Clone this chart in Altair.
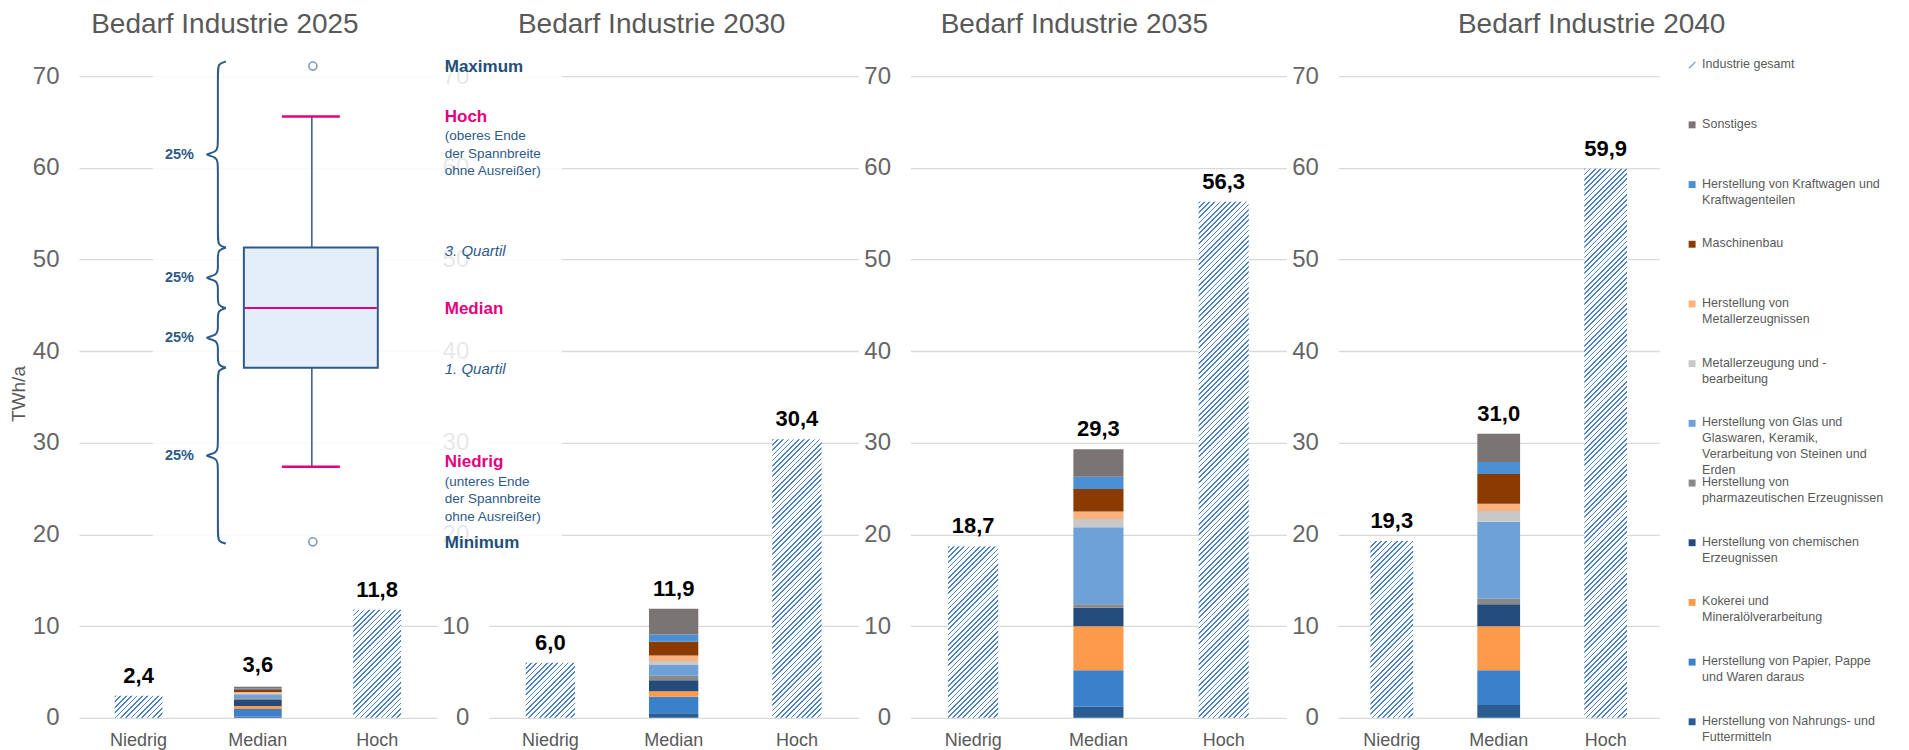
import altair as alt
import pandas as pd

# ---------------- data ----------------
years = ["2025", "2030", "2035", "2040"]
titles = ["Bedarf Industrie 2025", "Bedarf Industrie 2030", "Bedarf Industrie 2035", "Bedarf Industrie 2040"]
categories = ["Niedrig", "Median", "Hoch"]
niedrig = [2.4, 6.0, 18.7, 19.3]
hoch = [11.8, 30.4, 56.3, 59.9]
median_total = [3.6, 11.9, 29.3, 31.0]

# sectors from bottom of the stack to the top
sectors = [
    "Herstellung von Nahrungs- und Futtermitteln",
    "Herstellung von Papier, Pappe und Waren daraus",
    "Kokerei und Mineralölverarbeitung",
    "Herstellung von chemischen Erzeugnissen",
    "Herstellung von pharmazeutischen Erzeugnissen",
    "Herstellung von Glas und Glaswaren, Keramik, Verarbeitung von Steinen und Erden",
    "Metallerzeugung und -bearbeitung",
    "Herstellung von Metallerzeugnissen",
    "Maschinenbau",
    "Herstellung von Kraftwagen und Kraftwagenteilen",
    "Sonstiges",
]
sector_labels = [
    "Herstellung von Nahrungs-  und\nFuttermitteln",
    "Herstellung von Papier, Pappe\nund Waren daraus",
    "Kokerei und\nMineralölverarbeitung",
    "Herstellung von chemischen\nErzeugnissen",
    "Herstellung von\npharmazeutischen Erzeugnissen",
    "Herstellung von Glas und\nGlaswaren, Keramik,\nVerarbeitung von Steinen und\nErden",
    "Metallerzeugung und -\nbearbeitung",
    "Herstellung von\nMetallerzeugnissen",
    "Maschinenbau",
    "Herstellung von Kraftwagen und\nKraftwagenteilen",
    "Sonstiges",
]
sector_colors = ["#2b5d93", "#3a80cb", "#fe9a4b", "#234c7c", "#898989", "#6ea1d8",
                 "#c8c8c8", "#fbb27c", "#8c3b00", "#4b8fd5", "#7a7474"]
seg_2025 = [0.15, 0.8, 0.35, 0.65, 0.18, 0.45, 0.1, 0.15, 0.3, 0.1, 0.15]
seg_2030 = [0.5, 1.8, 0.6, 1.2, 0.5, 1.15, 0.45, 0.6, 1.5, 0.8, 2.8]
seg_2035 = [1.2, 4.0, 4.8, 2.0, 0.4, 8.4, 0.9, 0.8, 2.45, 1.35, 3.0]
seg_2040 = [1.4, 3.8, 4.8, 2.4, 0.6, 8.4, 1.15, 0.8, 3.25, 1.3, 3.1]
segments = [seg_2025, seg_2030, seg_2035, seg_2040]
total_name = "Industrie gesamt"

# explanatory box plot (illustration)
box_keys = ["max", "hoch", "q3", "med", "q1", "nied", "min"]
box_values = [71.1, 65.6, 51.3, 44.7, 38.2, 27.4, 19.2]
brace_edges = [71.6, 51.3, 44.7, 38.2, 19.0]
brace_text = ["25%", "25%", "25%", "25%"]

# ---------------- style / layout ----------------
FONT = "Liberation Sans"
W = [358, 370, 376, 321]
H = 642
YMAX = 70
HATCH = "#4f84c4"
DARK = "#2e5a88"
MAGENTA = "#e5007d"
GRAY = "#595959"
title_dx = [-33, -22, -24, 93]


def hatch(w, h, period=5.2, frac=0.32):
    c = (w + h) / (w * w + h * h)
    n = max(1, int(round((w + h) / period)))
    stops = []
    for k in range(n):
        a, b, e = k / n, (k + frac) / n, (k + 1) / n
        stops += [alt.GradientStop(offset=a, color=HATCH), alt.GradientStop(offset=b, color=HATCH),
                  alt.GradientStop(offset=b, color="#ffffff"), alt.GradientStop(offset=e, color="#ffffff")]
    return alt.LinearGradient(gradient="linear", stops=stops, x1=0, y1=0, x2=c * w, y2=c * h)


ysc = alt.Scale(domain=[0, YMAX], nice=False)
yax = alt.Axis(title=None, values=list(range(0, YMAX + 1, 10)), domain=False, ticks=False,
               grid=True, gridColor="#d9d9d9", gridWidth=1.3, labelPadding=20,
               labelFontSize=24, labelColor="#666666", labelFont=FONT)
xax = alt.Axis(title=None, labelAngle=0, domain=False, ticks=False, labelPadding=14,
               labelFontSize=18, labelColor=GRAY, labelFont=FONT, grid=False)


def panel(i):
    w = W[i]
    bw = 0.4 * w / 3
    xsc = alt.Scale(domain=categories, paddingInner=0.6, paddingOuter=0.3)
    stack_df = pd.DataFrame({"cat": "Median", "sector": sectors, "value": segments[i],
                             "order": list(range(len(sectors)))})
    stack = alt.Chart(stack_df).mark_bar().encode(
        x=alt.X("cat:N", scale=xsc, axis=xax),
        y=alt.Y("value:Q", stack="zero", scale=ysc, axis=yax),
        color=alt.Color("sector:N", scale=alt.Scale(domain=sectors, range=sector_colors), legend=None),
        order=alt.Order("order:Q"),
    )
    tot_df = pd.DataFrame({"cat": categories, "value": [niedrig[i], median_total[i], hoch[i]]})
    layers = [stack]
    for cat, v in (("Niedrig", niedrig[i]), ("Hoch", hoch[i])):
        layers.append(
            alt.Chart(tot_df).transform_filter(alt.datum.cat == cat)
            .mark_bar(fill=hatch(bw, v * H / YMAX))
            .encode(x=alt.X("cat:N", scale=xsc, axis=xax), y=alt.Y("value:Q", scale=ysc, axis=yax))
        )
    labels = alt.Chart(tot_df).transform_calculate(
        lab="replace(format(datum.value, '.1f'), '.', ',')"
    ).mark_text(font=FONT, fontSize=22, fontWeight="bold", color="#000000", baseline="alphabetic", dy=-13).encode(
        x=alt.X("cat:N", scale=xsc, axis=xax), y=alt.Y("value:Q", scale=ysc, axis=yax), text="lab:N")
    layers.append(labels)
    ttl = alt.Chart(pd.DataFrame({"t": [titles[i]]})).mark_text(
        font=FONT, fontSize=28, color=GRAY, baseline="alphabetic", align="center").encode(
        text="t:N", x=alt.value(w / 2 + title_dx[i]), y=alt.value(-43))
    layers.append(ttl)
    if i == 0:
        yt = alt.Chart(pd.DataFrame({"t": ["TWh/a"]})).mark_text(
            font=FONT, fontSize=19, color=GRAY, baseline="alphabetic", align="center", angle=270).encode(
            text="t:N", x=alt.value(-54), y=alt.value(318))
        layers.append(yt)
    return alt.layer(*layers).properties(width=w, height=H)


def illustration():
    st = pd.DataFrame([dict(zip(box_keys, box_values))])
    overlay = alt.Chart(st).mark_rect(color="#ffffff", opacity=0.85).encode(
        x=alt.value(-336), x2=alt.value(73), y=alt.value(-25), y2=alt.value(485))
    box = alt.Chart(st).mark_rect(fill="#e3eef8", stroke=DARK, strokeWidth=2).encode(
        x=alt.value(-245), x2=alt.value(-111), y=alt.Y("q3:Q", scale=ysc, axis=yax), y2="q1:Q")
    wh_up = alt.Chart(st).mark_rule(color=DARK, strokeWidth=1.5).encode(
        x=alt.value(-177), y=alt.Y("q3:Q", scale=ysc, axis=yax), y2="hoch:Q")
    wh_lo = alt.Chart(st).mark_rule(color=DARK, strokeWidth=1.5).encode(
        x=alt.value(-177), y=alt.Y("q1:Q", scale=ysc, axis=yax), y2="nied:Q")
    med = alt.Chart(st).mark_rule(color=MAGENTA, strokeWidth=2).encode(
        x=alt.value(-244), x2=alt.value(-112), y=alt.Y("med:Q", scale=ysc, axis=yax))
    cap_hi = alt.Chart(st).mark_rule(color=MAGENTA, strokeWidth=2.5).encode(
        x=alt.value(-207), x2=alt.value(-149), y=alt.Y("hoch:Q", scale=ysc, axis=yax))
    cap_lo = alt.Chart(st).mark_rule(color=MAGENTA, strokeWidth=2.5).encode(
        x=alt.value(-207), x2=alt.value(-149), y=alt.Y("nied:Q", scale=ysc, axis=yax))
    out_df = pd.DataFrame({"v": [box_values[0], box_values[-1]]})
    outl = alt.Chart(out_df).mark_point(shape="circle", filled=False, size=65, strokeWidth=1.6, color="#4472a8").encode(
        x=alt.value(-176), y=alt.Y("v:Q", scale=ysc, axis=yax))
    # braces
    SPINE, TIP, END, d = -271, -287.5, -263, 1.2
    rows = []
    for g in range(4):
        T, B = brace_edges[g], brace_edges[g + 1]
        M = (T + B) / 2
        pts = [(END, T), (SPINE, T - 0.2 * d), (SPINE, T - d), (SPINE, M + d), (SPINE, M + 0.2 * d), (TIP, M),
               (SPINE, M - 0.2 * d), (SPINE, M - d), (SPINE, B + d), (SPINE, B + 0.2 * d), (END, B)]
        for k, (px, v) in enumerate(pts):
            rows.append({"g": g, "k": k, "px": px, "v": v})
    brace_df = pd.DataFrame(rows)
    braces = alt.Chart(brace_df).mark_line(color=DARK, strokeWidth=2, interpolate="basis").encode(
        x=alt.X("px:Q", scale=alt.Scale(domain=[0, 100], range=[0, 100]), axis=None),
        y=alt.Y("v:Q", scale=ysc, axis=yax), detail="g:N", order="k:Q")
    mids = [(brace_edges[g] + brace_edges[g + 1]) / 2 for g in range(4)]
    pct = alt.Chart(pd.DataFrame({"v": mids, "t": brace_text})).mark_text(
        font=FONT, fontSize=14.5, fontWeight="bold", color=DARK, align="right", baseline="middle").encode(
        x=alt.value(-295), y=alt.Y("v:Q", scale=ysc, axis=yax), text="t:N")

    def ann(text, key, color, size, weight="normal", style="normal", dy=0, baseline="middle", lh=None):
        v = box_values[box_keys.index(key)]
        kw = dict(font=FONT, fontSize=size, fontWeight=weight, fontStyle=style, color=color, align="left",
                  baseline=baseline, dy=dy, lineBreak="\n")
        if lh:
            kw["lineHeight"] = lh
        return alt.Chart(pd.DataFrame({"v": [v], "t": [text]})).mark_text(**kw).encode(
            x=alt.value(-44), y=alt.Y("v:Q", scale=ysc, axis=yax), text="t:N")
    anns = [
        ann("Maximum", "max", "#1f4e79", 17, "bold", dy=1),
        ann("Hoch", "hoch", MAGENTA, 17, "bold", dy=1),
        ann("(oberes Ende\nder Spannbreite\nohne Ausreißer)", "hoch", DARK, 13.5, dy=13, baseline="top", lh=17.5),
        ann("3. Quartil", "q3", DARK, 15, style="italic", dy=3),
        ann("Median", "med", MAGENTA, 17, "bold", dy=1),
        ann("1. Quartil", "q1", DARK, 15, style="italic", dy=1),
        ann("Niedrig", "nied", MAGENTA, 17, "bold", dy=-5),
        ann("(unteres Ende\nder Spannbreite\nohne Ausreißer)", "nied", DARK, 13.5, dy=8, baseline="top", lh=17.5),
        ann("Minimum", "min", "#1f4e79", 17, "bold", dy=1),
    ]
    return [overlay, box, wh_up, wh_lo, med, cap_hi, cap_lo, outl, braces, pct] + anns


p1 = panel(0)
p2 = alt.layer(panel(1), *illustration()).resolve_scale(x="independent").properties(width=W[1], height=H)
p3 = panel(2)
p4 = panel(3)

# legend panel
leg_names = [total_name] + sectors[::-1]
leg_text = [total_name] + sector_labels[::-1]
leg_df = pd.DataFrame({"name": leg_names, "text": leg_text})
ly = alt.Y("name:N", scale=alt.Scale(type="point", domain=leg_names, range=[-11, 646], padding=0), axis=None)
leg_sq = alt.Chart(leg_df).transform_filter(alt.datum.name != total_name).mark_square(size=48, opacity=1).encode(
    x=alt.value(-19), y=ly,
    color=alt.Color("name:N", scale=alt.Scale(domain=sectors, range=sector_colors), legend=None))
leg_tot = alt.Chart(leg_df).transform_filter(alt.datum.name == total_name).mark_point(
    shape="M -1 1 L 1 -1", size=40, strokeWidth=1.5, color=HATCH, filled=False).encode(x=alt.value(-19), y=ly)
leg_txt = alt.Chart(leg_df).mark_text(font=FONT, fontSize=12.5, color=GRAY, align="left", baseline="top",
                                      dy=-7, lineBreak="\n", lineHeight=16).encode(
    x=alt.value(-9), y=ly, text="text:N")
leg = alt.layer(leg_sq, leg_tot, leg_txt).properties(width=190, height=H)

chart = alt.hconcat(p1, p2, p3, p4, leg, spacing=52, bounds="flush").properties(
    padding={"left": 2, "top": 3, "right": 0, "bottom": 0}
).configure(font=FONT, view=alt.ViewConfig(stroke=None))

chart.save("out.html", embed_options={"renderer": "svg", "actions": False})
